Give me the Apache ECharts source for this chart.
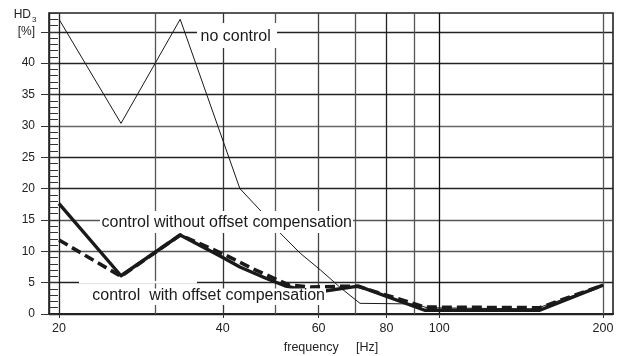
<!DOCTYPE html>
<html>
<head>
<meta charset="utf-8">
<script src="https://cdn.jsdelivr.net/npm/echarts@6/dist/echarts.min.js"></script>
<style>html,body{margin:0;padding:0;background:#fff;}</style>
</head>
<body>
<div id="chart" style="width:627px;height:356px;"></div>
<script>
// values: frequency [Hz] -> HD3 [%]
const noCtrlFreq = [20, 26, 33.4, 43, 47.5, 51, 55.5, 60.5, 66, 71.5, 90, 95, 150, 200];
const noCtrlHd3 = [47.0, 30.4, 47.0, 20.0, 16.0, 12.9, 9.7, 7.0, 4.1, 1.7, 1.6, 1.0, 0.8, 4.6];
const withoutFreq = [20, 26, 33.4, 40, 43, 48, 52, 57, 62, 71, 94, 153, 200];
const withoutHd3 = [17.6, 6.1, 12.6, 9.0, 7.5, 5.7, 4.5, 3.7, 3.7, 4.45, 0.6, 0.6, 4.6];
const withFreq = [20, 26, 33.4, 40, 46, 53, 58, 65, 71, 94, 153, 200];
const withHd3 = [11.8, 6.0, 12.6, 9.6, 7.0, 4.6, 4.3, 4.4, 4.4, 1.1, 1.0, 4.6];

const gridFreqs = [20, 30, 40, 50, 60, 70, 80, 90, 100, 200];
const xLabelValues = [20, 40, 60, 80, 100, 200];
const yMajorValues = [0, 5, 10, 15, 20, 25, 30, 35, 40, 45];

// grid line shades (scanned original has mixed greys)
const vLineColors = ['#222', '#555', '#333', '#555', '#444', '#555', '#222', '#555', '#111', '#555'];
const hLineColors = ['#222', '#222', '#555', '#555', '#222', '#222', '#666', '#222', '#222', '#222'];

const FONT = 'Liberation Sans, Arial, sans-serif';
const INK = '#1a1a1a';

function pairs(xs, ys) {
  return xs.map((x, i) => [x, ys[i]]);
}

const chart = echarts.init(document.getElementById('chart'));

chart.setOption({
  animation: false,
  backgroundColor: '#fff',
  grid: {
    left: 49, right: 14, top: 13, bottom: 42,
    show: true, borderColor: '#222', borderWidth: 1.6,
    containLabel: false,
    outerBoundsMode: 'none'
  },
  xAxis: {
    type: 'log',
    min: 19.17,
    max: 208.6,
    name: 'frequency     [Hz]',
    nameLocation: 'middle',
    nameGap: 27,
    nameTextStyle: { fontFamily: FONT, fontSize: 12.5, color: '#222' },
    axisLine: { lineStyle: { color: '#222', width: 2.2 } },
    axisTick: { customValues: xLabelValues, length: 4, lineStyle: { color: '#333' } },
    axisLabel: {
      customValues: xLabelValues,
      margin: 8,
      fontFamily: FONT, fontSize: 12.5, color: '#222',
      formatter: (v) => String(Math.round(v))
    },
    splitLine: { show: false },
    minorTick: { show: false }
  },
  yAxis: [
    {
      type: 'value',
      min: 0, max: 48,
      position: 'left',
      axisLine: { show: true, lineStyle: { color: '#222', width: 1.4 } },
      axisTick: { customValues: yMajorValues, length: 8, lineStyle: { color: '#333' } },
      axisLabel: {
        customValues: yMajorValues,
        margin: 14,
        fontFamily: FONT, fontSize: 12, color: '#222',
        formatter: (v) => (v === 45 ? '[%]' : String(v))
      },
      splitLine: { show: true, lineStyle: { color: hLineColors, width: 1.3 } }
    },
    {
      // ladder of small ticks inside the left axis
      type: 'value',
      min: 0, max: 48, interval: 1,
      position: 'left',
      axisLine: { show: false },
      axisTick: { show: true, inside: true, length: 9, lineStyle: { color: '#333', width: 1 } },
      axisLabel: { show: false },
      splitLine: { show: false }
    }
  ],
  graphic: [
    { type: 'text', z: 100, style: { text: 'HD', x: 31, y: 15, align: 'right', verticalAlign: 'middle', font: '12px ' + FONT, fill: '#222' } },
    { type: 'text', z: 100, style: { text: '3', x: 32, y: 20, align: 'left', verticalAlign: 'middle', font: '8px ' + FONT, fill: '#222' } },

    { type: 'rect', z: 99, shape: { x: 197, y: 23, width: 80, height: 25 }, style: { fill: '#fff' } },
    { type: 'text', z: 100, style: { text: 'no control', x: 200.5, y: 37, verticalAlign: 'middle', font: '16px ' + FONT, fill: INK } },

    { type: 'rect', z: 99, shape: { x: 100, y: 211, width: 253, height: 22 }, style: { fill: '#fff' } },
    { type: 'text', z: 100, style: { text: 'control without offset compensation', x: 101.5, y: 222.5, verticalAlign: 'middle', font: '16px ' + FONT, fill: INK } },

    { type: 'rect', z: 99, shape: { x: 79, y: 281, width: 118, height: 2.5 }, style: { fill: '#fff' } },
    { type: 'rect', z: 99, shape: { x: 78, y: 288.5, width: 248, height: 16.5 }, style: { fill: '#fff' } },
    { type: 'text', z: 100, style: { text: 'control  with offset compensation', x: 92.3, y: 296, verticalAlign: 'middle', font: '16px ' + FONT, fill: INK } }
  ],
  series: [
    {
      name: 'no control',
      type: 'line',
      z: 2,
      yAxisIndex: 0,
      data: pairs(noCtrlFreq, noCtrlHd3),
      symbol: 'none',
      lineStyle: { color: INK, width: 1 },
      markLine: {
        z: 1,
        silent: true,
        symbol: 'none',
        label: { show: false },
        data: gridFreqs.map((f, i) => ({ xAxis: f, lineStyle: { color: vLineColors[i], width: 1.3, type: 'solid', opacity: 1 } }))
      }
    },
    {
      name: 'control without offset compensation',
      type: 'line',
      z: 3,
      yAxisIndex: 0,
      data: pairs(withoutFreq, withoutHd3),
      symbol: 'none',
      lineStyle: { color: INK, width: 3.4, join: 'round' }
    },
    {
      name: 'control with offset compensation',
      type: 'line',
      z: 3,
      yAxisIndex: 0,
      data: pairs(withFreq, withHd3),
      symbol: 'none',
      lineStyle: { color: INK, width: 3.6, type: [10, 5] }
    }
  ]
});
</script>
</body>
</html>
